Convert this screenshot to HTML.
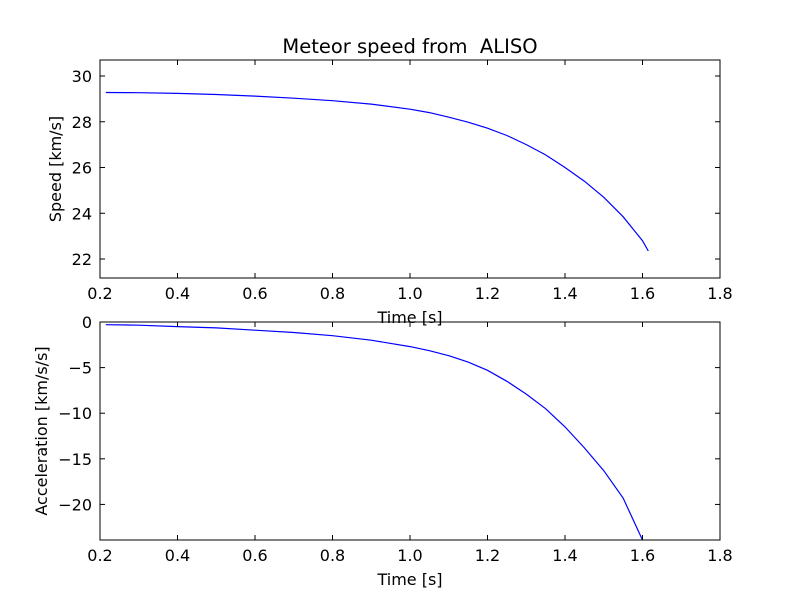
<!DOCTYPE html>
<html><head><meta charset="utf-8"><style>
body{margin:0;background:#fff;}
svg{font-family:"DejaVu Sans","Liberation Sans",sans-serif;}
</style></head><body>
<svg id="chart" width="800" height="600" viewBox="0 0 800 600">
<rect width="800" height="600" fill="#fff"/>
</svg>
<script>
const times=[0.215,0.3,0.4,0.5,0.6,0.7,0.8,0.9,1.0,1.05,1.1,1.15,1.2,1.25,1.3,1.35,1.4,1.45,1.5,1.55,1.6,1.615];
const speeds=[29.28,29.27,29.24,29.19,29.12,29.03,28.92,28.77,28.55,28.4,28.2,27.98,27.72,27.4,27.0,26.55,26.0,25.4,24.7,23.85,22.8,22.35];
const accTimes=[0.215,0.3,0.4,0.5,0.6,0.7,0.8,0.9,1.0,1.05,1.1,1.15,1.2,1.25,1.3,1.35,1.4,1.45,1.5,1.55,1.6];
const accels=[-0.3,-0.35,-0.5,-0.65,-0.9,-1.15,-1.5,-2.0,-2.7,-3.15,-3.7,-4.4,-5.3,-6.5,-7.9,-9.5,-11.5,-13.8,-16.3,-19.3,-23.9];
const xTicks=[0.2,0.4,0.6,0.8,1.0,1.2,1.4,1.6,1.8];
const speedTicks=[22,24,26,28,30];
const accTicks=[0,-5,-10,-15,-20];
const NS="http://www.w3.org/2000/svg";
const svg=document.getElementById('chart');
function mk(tag,attrs,parent){const e=document.createElementNS(NS,tag);for(const k in attrs)e.setAttribute(k,attrs[k]);(parent||svg).appendChild(e);return e;}
const L=100,R=720;
const xs=v=>L+(v-0.2)/(1.6)*(R-L);
function panel(top,bot,ymin,ymax,yt,fmt,xv,yv,ylabel,name,ylx){
  const ys=v=>bot-(v-ymin)/(ymax-ymin)*(bot-top);
  const g=mk('g',{});
  
  
  let d='';xv.forEach((x,i)=>{d+=(i?'L':'M')+xs(x).toFixed(1)+','+ys(yv[i]).toFixed(1);});
  const p=mk('path',{d:d,fill:'none',stroke:'#0000ff','stroke-width':1.2},g);
  
  
  xTicks.forEach(t=>{const x=xs(t);
    mk('line',{x1:x,x2:x,y1:bot,y2:bot-5,stroke:'#000'},g);
    mk('line',{x1:x,x2:x,y1:top,y2:top+5,stroke:'#000'},g);
    const tx=mk('text',{x:x,y:bot+21,'text-anchor':'middle','font-size':16},g);tx.textContent=t.toFixed(1);
    
    
  });
  yt.forEach(t=>{const y=ys(t);
    mk('line',{x1:L,x2:L+5,y1:y,y2:y,stroke:'#000'},g);
    mk('line',{x1:R,x2:R-5,y1:y,y2:y,stroke:'#000'},g);
    const tx=mk('text',{x:L-8,y:y+6,'text-anchor':'end','font-size':16},g);tx.textContent=fmt(t);
    
    
  });
  mk('rect',{x:L,y:top,width:R-L,height:bot-top,fill:'none',stroke:'#000'},g);
  const yl=mk('text',{x:0,y:0,'text-anchor':'middle','font-size':16,transform:`translate(${ylx},${(top+bot)/2}) rotate(-90)`},g);
  yl.textContent=ylabel;
  
  
  const xl=mk('text',{x:410,y:bot+45,'text-anchor':'middle','font-size':16},g);
  xl.textContent='Time [s]';
  
  
}
panel(60,278,21.17,30.7,speedTicks,t=>String(t),times,speeds,'Speed [km/s]','speed',61);
panel(322,540,-23.9,0,accTicks,t=>t<0?'\u2212'+(-t):String(t),accTimes,accels,'Acceleration [km/s/s]','acceleration',47);
const title=mk('text',{x:410,y:53,'text-anchor':'middle','font-size':19.5});
title.textContent='Meteor speed from  ALISO';


title.style.whiteSpace='pre';
</script>
</body></html>
